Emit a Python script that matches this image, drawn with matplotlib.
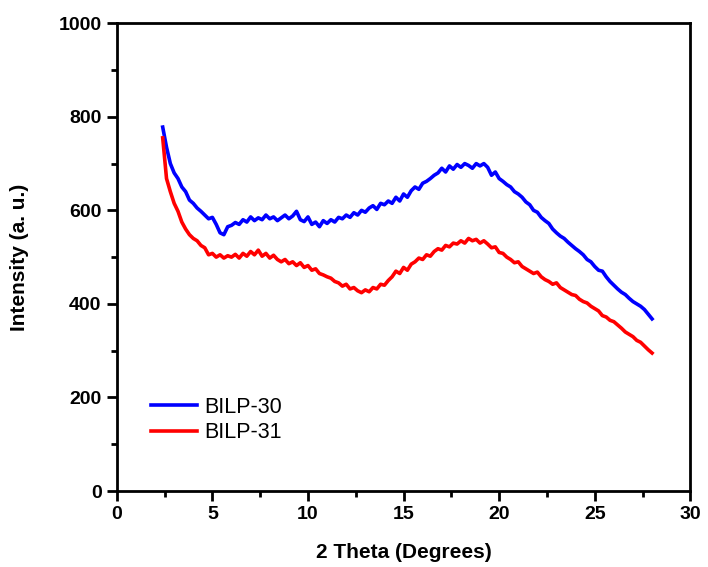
import numpy as np
import matplotlib.pyplot as plt
from matplotlib.ticker import MultipleLocator

# XRD patterns, 0.2 degree steps from 2.4 to 28.0
bilp30 = [778, 735, 700, 680, 668, 650, 640, 622, 615, 605,
          598, 590, 582, 585, 570, 552, 548, 565, 568, 574,
          570, 580, 575, 586, 578, 584, 580, 590, 582, 586,
          578, 584, 590, 582, 588, 598, 580, 576, 586, 570,
          575, 565, 578, 572, 580, 575, 585, 582, 590, 585,
          595, 590, 600, 596, 605, 610, 602, 615, 612, 620,
          615, 628, 620, 635, 628, 642, 650, 645, 658, 662,
          668, 675, 680, 690, 682, 695, 688, 698, 692, 700,
          696, 690, 700, 695, 700, 692, 675, 682, 668, 662,
          655, 650, 640, 635, 628, 618, 612, 600, 596, 585,
          578, 572, 560, 552, 545, 540, 532, 525, 518, 512,
          505, 495, 490, 480, 472, 470, 458, 448, 440, 432,
          425, 420, 412, 405, 400, 395, 388, 378, 368]

bilp31 = [755, 668, 640, 615, 598, 575, 560, 548, 540, 535,
          525, 520, 505, 508, 500, 505, 498, 503, 500, 506,
          498, 508, 502, 512, 505, 515, 502, 508, 498, 504,
          495, 490, 495, 486, 490, 482, 488, 478, 482, 472,
          475, 465, 462, 458, 455, 448, 445, 438, 442, 432,
          435, 428, 424, 430, 426, 435, 432, 442, 440, 450,
          458, 470, 465, 478, 472, 485, 490, 498, 495, 505,
          502, 512, 518, 515, 525, 522, 530, 528, 535, 530,
          540, 535, 538, 530, 535, 528, 520, 522, 510, 508,
          500, 495, 488, 490, 480, 475, 470, 465, 468, 458,
          452, 448, 442, 445, 435, 430, 425, 420, 418, 410,
          405, 402, 395, 390, 385, 375, 372, 365, 362, 355,
          348, 340, 335, 330, 322, 318, 310, 302, 295]

two_theta = np.linspace(2.4, 28.0, len(bilp30))

plt.rcParams['font.family'] = ['Liberation Sans', 'DejaVu Sans']

fig = plt.figure(figsize=(7.08, 5.67), dpi=100)
ax = fig.add_axes([0.165, 0.134, 0.81, 0.825])

ax.plot(two_theta, bilp30, color='#0000ff', lw=2.6, label='BILP-30')
ax.plot(two_theta, bilp31, color='#ff0000', lw=2.6, label='BILP-31')

ax.set_xlim(0, 30)
ax.set_ylim(0, 1000)
ax.xaxis.set_major_locator(MultipleLocator(5))
ax.xaxis.set_minor_locator(MultipleLocator(2.5))
ax.yaxis.set_major_locator(MultipleLocator(200))
ax.yaxis.set_minor_locator(MultipleLocator(100))

for s in ax.spines.values():
    s.set_linewidth(2)
ax.tick_params(which='major', direction='out', length=7, width=2,
               labelsize=14, pad=4)
ax.tick_params(which='minor', direction='out', length=4, width=2)
for lab in ax.get_xticklabels() + ax.get_yticklabels():
    lab.set_fontweight('bold')

ax.set_xlabel('2 Theta (Degrees)', fontsize=15, fontweight='bold')
ax.set_ylabel('Intensity (a. u.)', fontsize=15, fontweight='bold')
ax.xaxis.set_label_coords(0.5, -0.111)
ax.yaxis.set_label_coords(-0.153, 0.5)

ax.legend(loc='center left', bbox_to_anchor=(0.026, 0.152), frameon=False,
          fontsize=15.5, handlelength=2.15, handletextpad=0.3, labelspacing=0.2)

fig.savefig('out.png', dpi=100)
